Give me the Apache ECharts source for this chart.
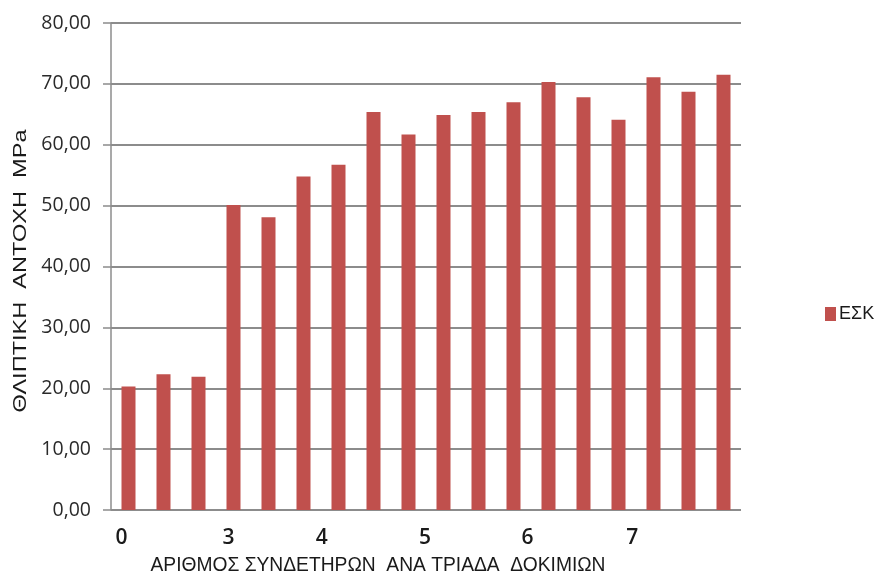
<!DOCTYPE html>
<html>
<head>
<meta charset="utf-8">
<script src="https://cdn.jsdelivr.net/npm/echarts@6/dist/echarts.min.js"></script>
<style>
  html, body { margin: 0; padding: 0; background: #fff; }
  #chart { width: 877px; height: 579px; }
</style>
</head>
<body>
<div id="chart"></div>
<script>
// Compressive strength per specimen (MPa), grouped in triads by number of stirrups
const specimens = ['1','2','3','4','5','6','7','8','9','10','11','12','13','14','15','16','17','18'];
const strengthESK = [20.3, 22.3, 21.9, 50.1, 48.1, 54.8, 56.7, 65.4, 61.7, 64.9, 65.4, 67.0, 70.3, 67.8, 64.1, 71.1, 68.7, 71.5];

// Group labels along the bottom axis and where they sit, in specimen-slot units
const groupLabels = ['0', '3', '4', '5', '6', '7'];
const groupLabelSlots = [0.30, 3.36, 6.02, 8.97, 11.9, 14.89];

const yTicks = { min: 0, max: 80, step: 10 };

const seriesName = 'ΕΣΚ';
const yTitle = 'ΘΛΙΠΤΙΚΗ  ΑΝΤΟΧΗ  MPa';
const xTitle = 'ΑΡΙΘΜΟΣ ΣΥΝΔΕΤΗΡΩΝ  ΑΝΑ ΤΡΙΑΔΑ  ΔΟΚΙΜΙΩΝ';

const chart = echarts.init(document.getElementById('chart'), null, { renderer: 'canvas' });

const textColor = '#1a1a1a';
const gridColor = '#8c8c8c';

// Horizontal squeeze so the axis titles get a condensed look
function fitScale(text, font, width) {
  const ctx = document.createElement('canvas').getContext('2d');
  ctx.font = font;
  return width / ctx.measureText(text).width;
}
const xTitleFont = '21px "Liberation Sans", Arial, sans-serif';
const xTitleScale = fitScale(xTitle, xTitleFont, 455);
const yTitleFont = '18px "Liberation Sans", Arial, sans-serif';
const yTitleScale = fitScale(yTitle, yTitleFont, 283);

chart.setOption({
  animation: false,
  backgroundColor: '#ffffff',
  grid: { left: 111, right: 136, top: 23, bottom: 69, containLabel: false },
  legend: {
    data: [seriesName],
    left: 820,
    top: 300,
    orient: 'vertical',
    icon: 'rect',
    itemWidth: 11,
    itemHeight: 14,
    itemGap: 6,
    textStyle: { fontFamily: '"Liberation Sans", Arial, sans-serif', fontSize: 18, color: textColor, padding: [0, 0, 0, -2] }
  },
  xAxis: [
    {
      type: 'category',
      data: specimens,
      boundaryGap: true,
      axisLine: { show: false },
      axisTick: { show: false },
      axisLabel: { show: false },
      splitLine: { show: false }
    },
    {
      type: 'value',
      min: 0,
      max: specimens.length,
      position: 'bottom',
      axisLine: { show: false },
      axisTick: { show: false },
      splitLine: { show: false },
      axisLabel: {
        customValues: groupLabelSlots,
        formatter: function (v) {
          const i = groupLabelSlots.findIndex(s => Math.abs(s - v) < 1e-6);
          return i >= 0 ? groupLabels[i] : '';
        },
        margin: 18,
        fontFamily: 'Open Sans, sans-serif',
        fontWeight: 600,
        fontSize: 21,
        color: textColor
      }
    }
  ],
  yAxis: {
    type: 'value',
    min: yTicks.min,
    max: yTicks.max,
    interval: yTicks.step,
    axisLine: { show: true, lineStyle: { color: gridColor, width: 1.5 } },
    axisTick: { show: true, inside: false, length: 8, lineStyle: { color: gridColor, width: 1.5 } },
    splitLine: { show: true, lineStyle: { color: gridColor, width: 2 } },
    axisLabel: {
      margin: 20,
      formatter: v => v.toFixed(2).replace('.', ','),
      fontFamily: 'Open Sans, sans-serif',
      fontSize: 19.5,
      color: '#2a2a2a'
    }
  },
  series: [{
    name: seriesName,
    type: 'bar',
    xAxisIndex: 0,
    data: strengthESK,
    barWidth: 14,
    itemStyle: { color: '#C0504D' }
  }],
  graphic: [
    {
      type: 'text',
      x: 21,
      y: 271,
      rotation: Math.PI / 2,
      scaleX: yTitleScale,
      style: {
        text: yTitle,
        font: yTitleFont,
        fill: textColor,
        align: 'center',
        verticalAlign: 'middle'
      }
    },
    {
      type: 'text',
      x: 378,
      y: 565,
      scaleX: xTitleScale,
      style: {
        text: xTitle,
        font: xTitleFont,
        fill: textColor,
        align: 'center',
        verticalAlign: 'middle'
      }
    }
  ]
});
</script>
</body>
</html>
